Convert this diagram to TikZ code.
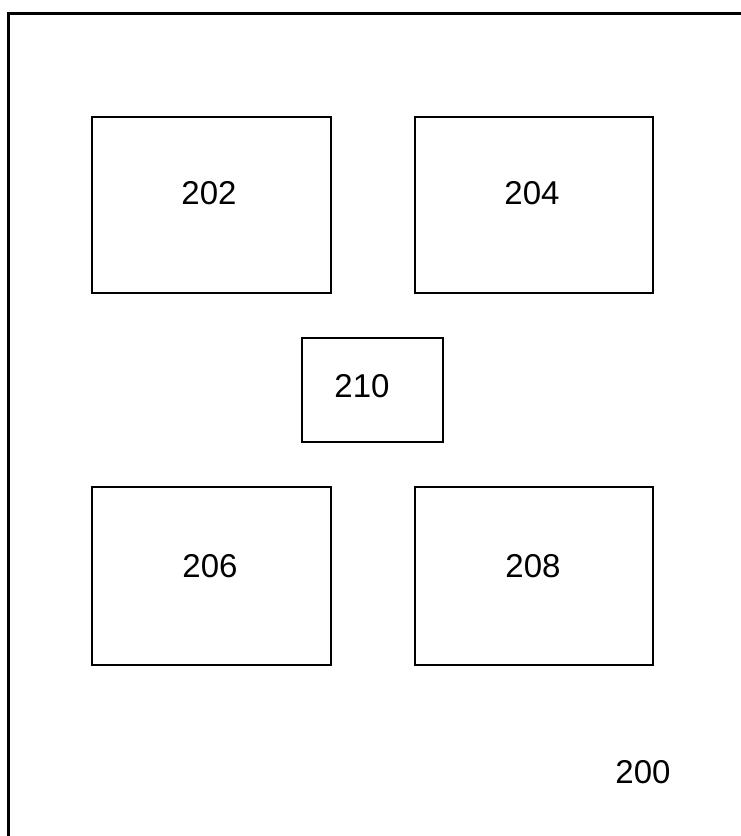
\documentclass[tikz,border=0pt]{standalone}
\usepackage{fontspec}
\setmainfont{Liberation Sans}
\begin{document}
\begin{tikzpicture}[x=1pt,y=-1pt,
  blk/.style={draw=black,line width=2.7pt,minimum width=#1,inner sep=0pt,outer sep=0pt},
  lbl/.style={font=\fontsize{33}{36}\selectfont,inner sep=0pt}]
\useasboundingbox (0,0) rectangle (740,836);
\draw[line width=3.2pt] (8.5,840) -- (8.5,13.5) -- (745,13.5);
\node[blk=239pt,minimum height=176pt] (b202) at (211.5,205) {};
\node[blk=238pt,minimum height=176pt] (b204) at (534,205) {};
\node[blk=239pt,minimum height=178pt] (b206) at (211.5,576) {};
\node[blk=238pt,minimum height=178pt] (b208) at (534,576) {};
\node[blk=141pt,minimum height=104pt] (b210) at (372.5,390) {};
\node[lbl] (t202) at (209,193) {202};
\node[lbl] (t204) at (532,193) {204};
\node[lbl] (t206) at (210,566) {206};
\node[lbl] (t208) at (533,566) {208};
\node[lbl] (t210) at (362,386) {210};
\node[lbl] (t200) at (643,772) {200};
\end{tikzpicture}
\end{document}
